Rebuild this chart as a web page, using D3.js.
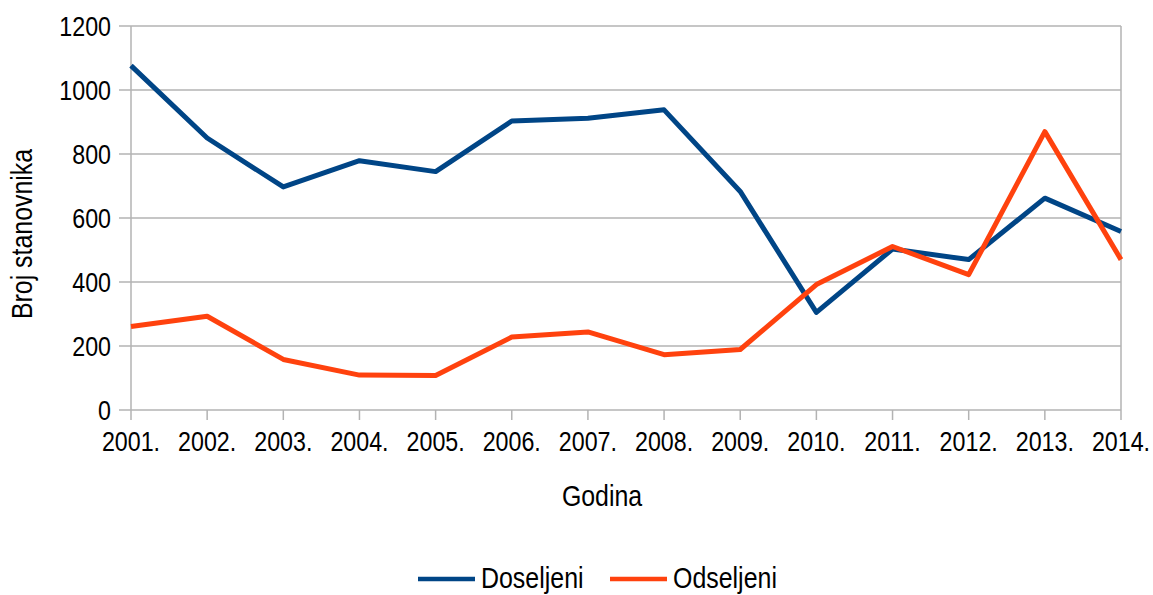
<!DOCTYPE html>
<html>
<head>
<meta charset="utf-8">
<script src="https://cdn.jsdelivr.net/npm/d3@7"></script>
<style>
  body { margin: 0; background: #fff; }
  text { font-family: "Liberation Sans", Arial, sans-serif; fill: #000; }
</style>
</head>
<body>
<svg id="chart" width="1153" height="595"></svg>
<script>
const years = ["2001.", "2002.", "2003.", "2004.", "2005.", "2006.", "2007.",
    "2008.", "2009.", "2010.", "2011.", "2012.", "2013.", "2014."];
const doseljeni = [1076, 850, 697, 779, 745, 903, 912, 938, 683, 305, 503, 470, 662, 558];
const odseljeni = [261, 293, 158, 109, 108, 228, 244, 173, 189, 392, 511, 423, 870, 470];
const yTicks = [0, 200, 400, 600, 800, 1000, 1200];
const seriesNames = ["Doseljeni", "Odseljeni"];
const colors = ["#004586", "#ff420e"];

const margins = { top: 26, right: 32, bottom: 185, left: 131 };
const WIDTH = 1153 - margins.left - margins.right;
const HEIGHT = 595 - margins.top - margins.bottom;
const SQUEEZE = 0.83; // the original font is narrow

const svg = d3.select('#chart');
const g = svg.append('g')
    .attr('transform', 'translate(' + margins.left + ',' + margins.top + ')');

const x = d3.scalePoint().domain(years).range([0, WIDTH]);
const y = d3.scaleLinear().domain([0, 1200]).range([HEIGHT, 0]);

function place(px, py, rot) {
    return 'translate(' + px + ',' + py + ')' + (rot ? ' rotate(' + rot + ')' : '') +
        ' scale(' + SQUEEZE + ',1)';
}

// grid lines + left ticks
g.selectAll('.grid')
    .data(yTicks)
    .enter()
    .append('line')
    .attr('x1', -12)
    .attr('x2', WIDTH)
    .attr('y1', d => y(d))
    .attr('y2', d => y(d))
    .attr('stroke', '#b3b3b3')
    .attr('stroke-width', 1.5);

// y labels
g.selectAll('.ylab')
    .data(yTicks)
    .enter()
    .append('text')
    .text(d => d)
    .attr('transform', d => place(-20, y(d)))
    .attr('dy', '0.36em')
    .style('text-anchor', 'end')
    .style('font-size', '28px');

// frame: left axis and right border
[0, WIDTH].forEach(px => {
    g.append('line')
        .attr('x1', px).attr('x2', px)
        .attr('y1', 0).attr('y2', HEIGHT)
        .attr('stroke', '#b3b3b3')
        .attr('stroke-width', 1.5);
});

// x ticks
g.selectAll('.xtick')
    .data(years)
    .enter()
    .append('line')
    .attr('x1', d => x(d)).attr('x2', d => x(d))
    .attr('y1', HEIGHT).attr('y2', HEIGHT + 10)
    .attr('stroke', '#b3b3b3')
    .attr('stroke-width', 1.5);

g.selectAll('.xlab')
    .data(years)
    .enter()
    .append('text')
    .text(d => d)
    .attr('transform', d => place(x(d), HEIGHT + 41))
    .style('text-anchor', 'middle')
    .style('font-size', '28px');

// lines
const line = d3.line()
    .x((d, i) => x(years[i]))
    .y(d => y(d));

[doseljeni, odseljeni].forEach((s, i) => {
    g.append('path')
        .datum(s)
        .attr('d', line)
        .attr('fill', 'none')
        .attr('stroke', colors[i])
        .attr('stroke-width', 5)
        .attr('stroke-linejoin', 'round');
});

// axis titles
svg.append('text')
    .text('Godina')
    .attr('transform', place(602, 506))
    .style('text-anchor', 'middle')
    .style('font-size', '30px');

svg.append('text')
    .text('Broj stanovnika')
    .attr('transform', 'translate(32,234) rotate(-90) scale(' + SQUEEZE + ',1)')
    .style('text-anchor', 'middle')
    .style('font-size', '30px');

// legend
const legendX = [418, 610];
seriesNames.forEach((name, i) => {
    svg.append('line')
        .attr('x1', legendX[i]).attr('x2', legendX[i] + 57)
        .attr('y1', 579).attr('y2', 579)
        .attr('stroke', colors[i])
        .attr('stroke-width', 4.5);
    svg.append('text')
        .text(name)
        .attr('transform', 'translate(' + (legendX[i] + 63) + ',588) scale(0.86,1)')
        .style('font-size', '29px');
});
</script>
</body>
</html>
